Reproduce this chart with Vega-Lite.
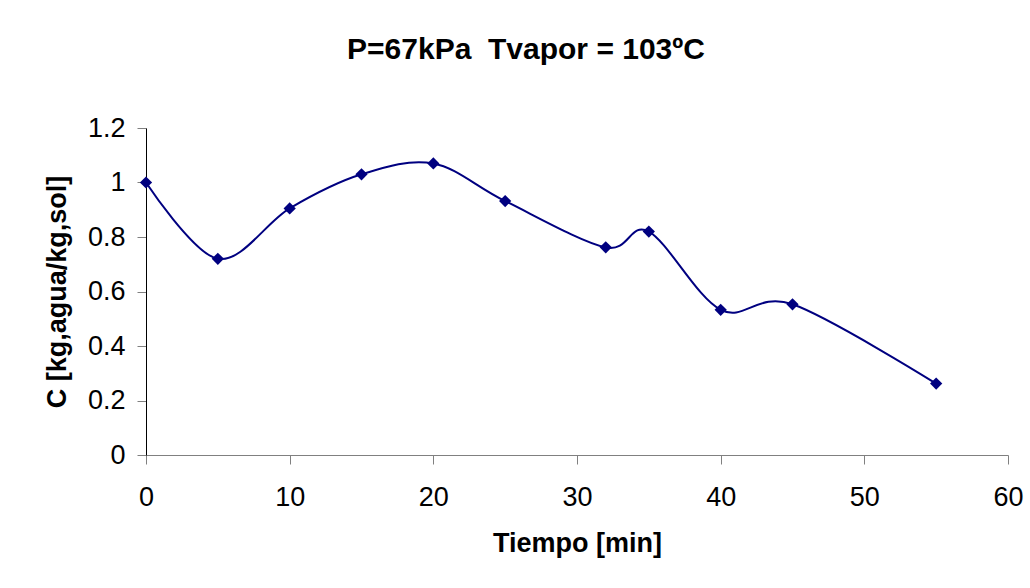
{
  "$schema": "https://vega.github.io/schema/vega-lite/v6.json",
  "autosize": {"type": "none"},
  "width": 862,
  "height": 327,
  "padding": {"left": 146, "top": 128, "right": 22, "bottom": 133},
  "background": "white",
  "title": {
    "text": "P=67kPa\u00a0\u00a0Tvapor = 103ºC",
    "font": "Liberation Sans",
    "fontSize": 30,
    "fontWeight": "bold",
    "color": "black",
    "anchor": "middle",
    "baseline": "alphabetic",
    "offset": 25,
    "dx": -51
  },
  "data": {
    "values": [
      {"t": 0, "c": 1.0},
      {"t": 5, "c": 0.72},
      {"t": 10, "c": 0.905},
      {"t": 15, "c": 1.03},
      {"t": 20, "c": 1.07},
      {"t": 25, "c": 0.932},
      {"t": 32, "c": 0.762},
      {"t": 35, "c": 0.82},
      {"t": 40, "c": 0.533},
      {"t": 45, "c": 0.553},
      {"t": 55, "c": 0.262}
    ]
  },
  "encoding": {
    "x": {
      "field": "t",
      "type": "quantitative",
      "scale": {"domain": [0, 60], "nice": false, "zero": false},
      "axis": {
        "title": "Tiempo [min]",
        "values": [0, 10, 20, 30, 40, 50, 60],
        "format": "d",
        "grid": false,
        "labelFlush": false,
        "labelOverlap": false,
        "domainColor": "#808080",
        "tickColor": "#808080",
        "tickSize": 9,
        "labelPadding": 20,
        "labelFont": "Liberation Sans",
        "labelFontSize": 27,
        "labelColor": "black",
        "titleFont": "Liberation Sans",
        "titleFontSize": 27,
        "titleFontWeight": "bold",
        "titleColor": "black",
        "titlePadding": 20
      }
    },
    "y": {
      "field": "c",
      "type": "quantitative",
      "scale": {"domain": [0, 1.2], "nice": false},
      "axis": {
        "title": "C [kg,agua/kg,sol]",
        "values": [0, 0.2, 0.4, 0.6, 0.8, 1, 1.2],
        "format": ".1~f",
        "grid": false,
        "labelFlush": false,
        "labelOverlap": false,
        "domainColor": "black",
        "tickColor": "#808080",
        "tickSize": 9,
        "labelPadding": 12,
        "labelFont": "Liberation Sans",
        "labelFontSize": 27,
        "labelColor": "black",
        "titleFont": "Liberation Sans",
        "titleFontSize": 27,
        "titleFontWeight": "bold",
        "titleColor": "black",
        "titlePadding": 16
      }
    }
  },
  "layer": [
    {
      "mark": {"type": "line", "interpolate": "cardinal", "tension": 0, "color": "#000080", "strokeWidth": 2}
    },
    {
      "mark": {"type": "point", "shape": "diamond", "filled": true, "color": "#000080", "opacity": 1, "size": 150}
    }
  ],
  "config": {"view": {"stroke": null}}
}
